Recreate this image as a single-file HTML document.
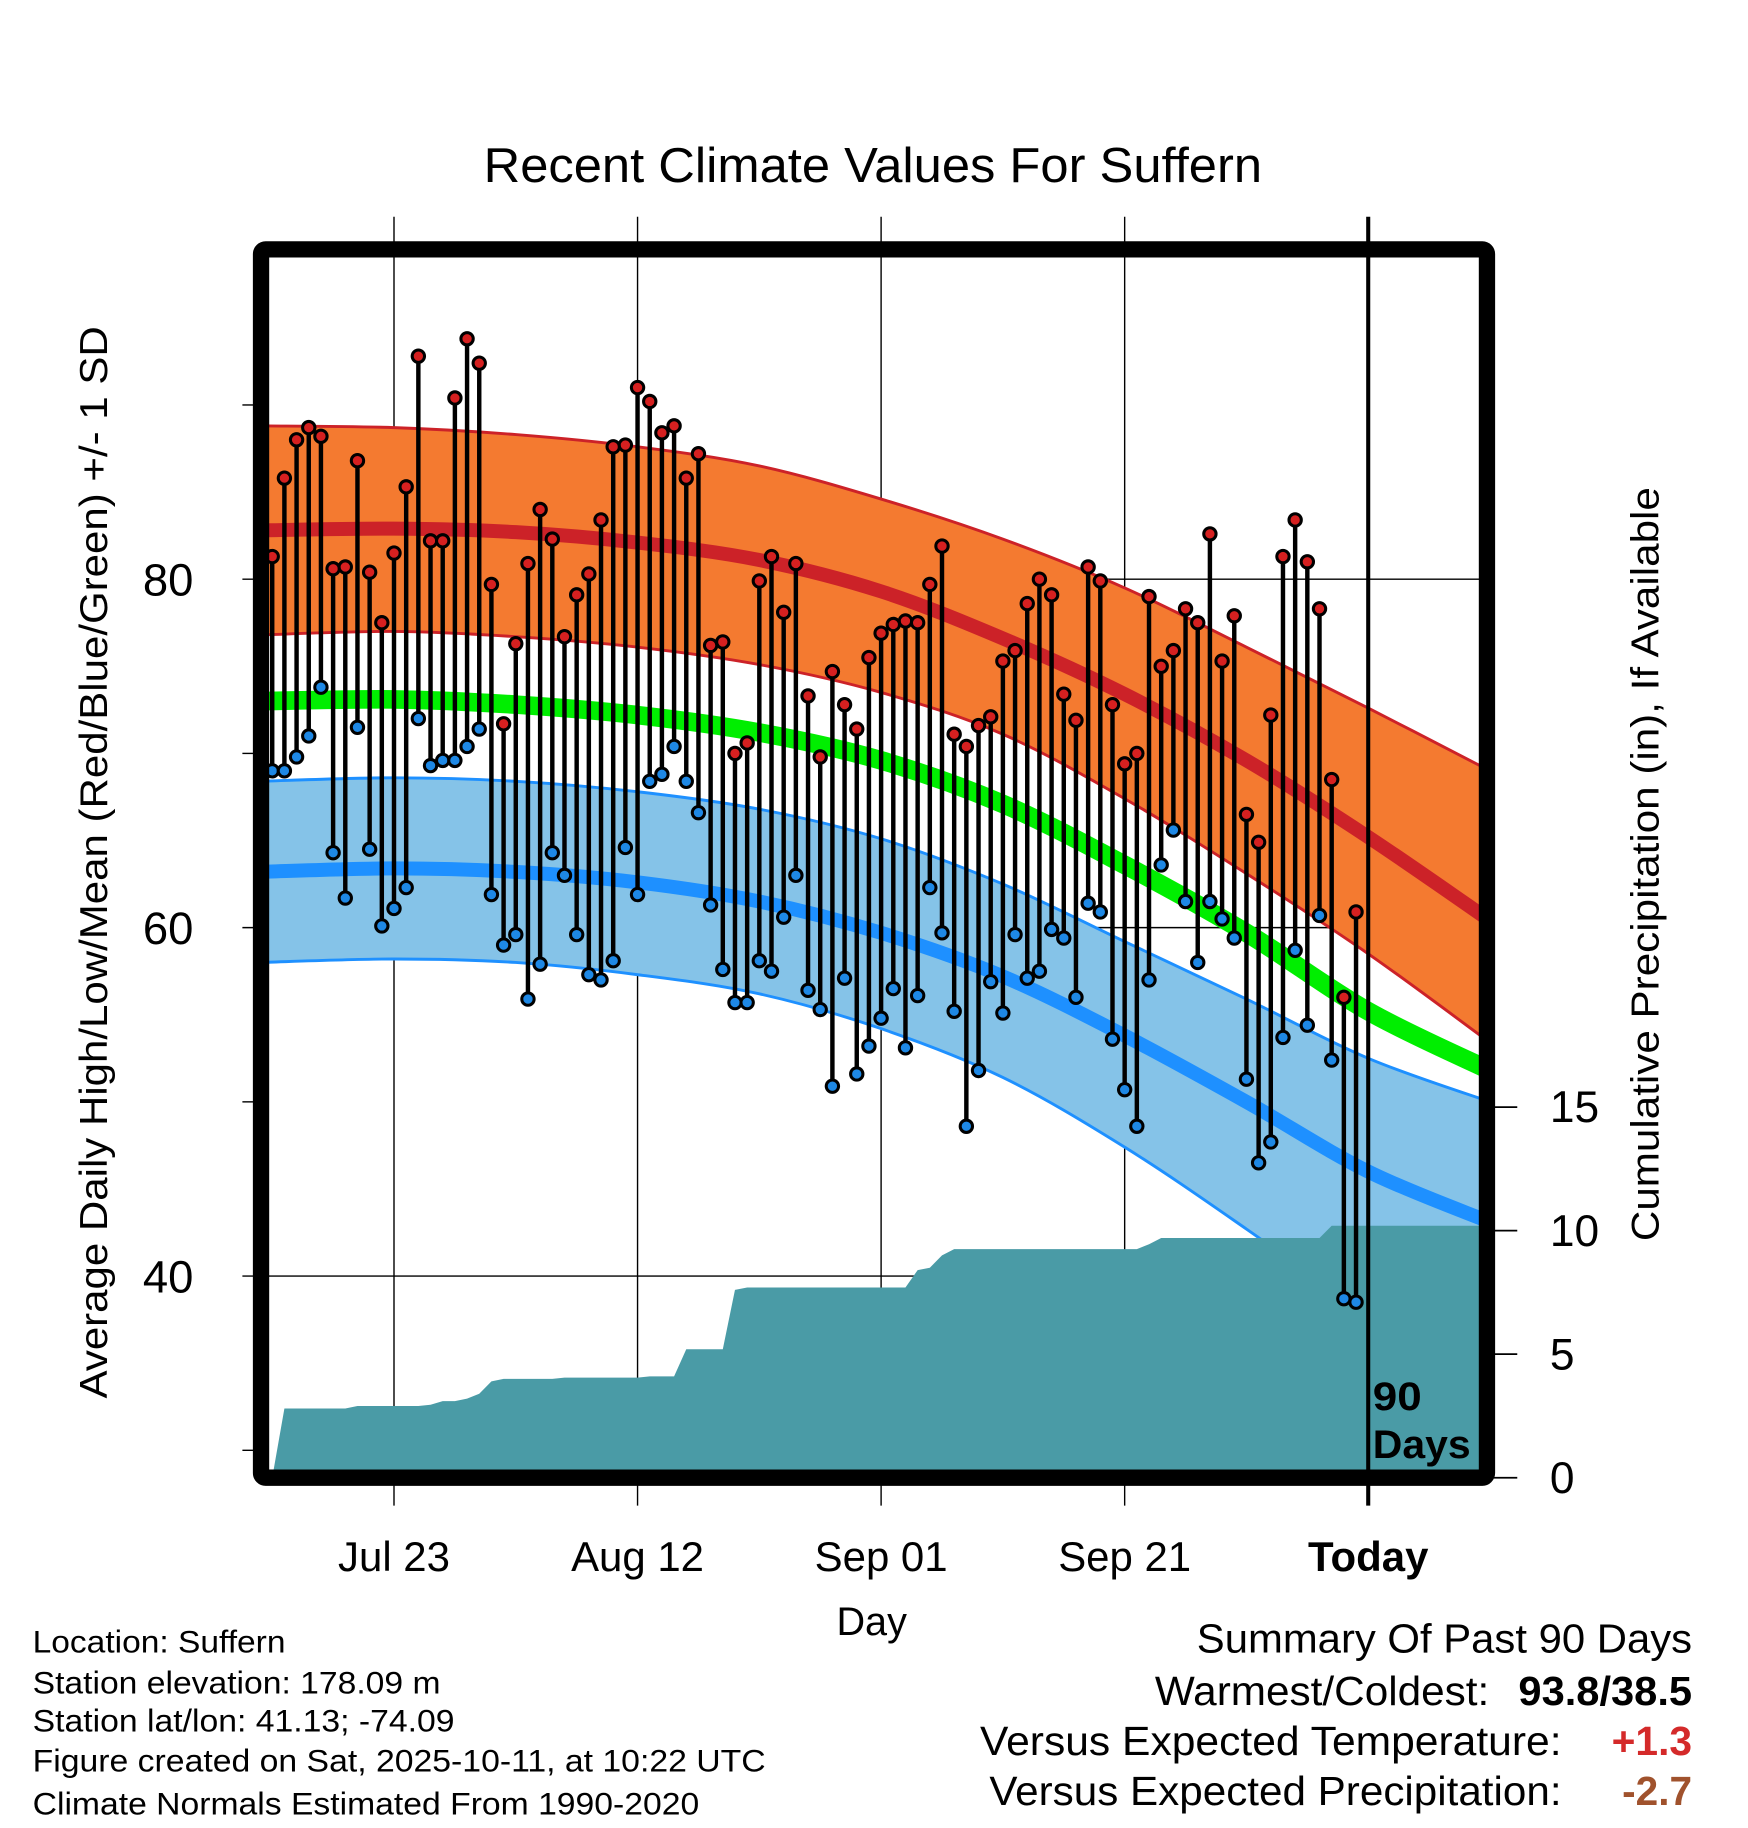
<!DOCTYPE html>
<html><head><meta charset="utf-8">
<style>html,body{margin:0;padding:0;background:#fff}svg{display:block}text{font-family:"Liberation Sans",sans-serif}</style>
</head><body>
<svg id="chart" width="1748" height="1828" viewBox="0 0 1500 1568.6" preserveAspectRatio="none" xmlns="http://www.w3.org/2000/svg">
<defs><clipPath id="pc"><rect x="230" y="220" width="1040" height="1042"/></clipPath></defs>
<text x="415" y="156" font-size="42" textLength="668" lengthAdjust="spacingAndGlyphs">Recent Climate Values For Suffern</text>
<g id="grid"></g>
<g id="plot" clip-path="url(#pc)"></g>
<g id="axes"></g>
<rect x="224" y="214" width="1052" height="1054" fill="none" stroke="#000" stroke-width="14" rx="4"/>
<text transform="translate(92,1200) rotate(-90)" font-size="33" textLength="920" lengthAdjust="spacingAndGlyphs">Average Daily High/Low/Mean (Red/Blue/Green) +/- 1 SD</text>
<text transform="translate(1423,1065) rotate(-90)" font-size="33" textLength="647" lengthAdjust="spacingAndGlyphs">Cumulative Precipitation (in), If Available</text>
<text x="748" y="1403" font-size="34" text-anchor="middle">Day</text>
<text x="1178" y="1210" font-size="34" font-weight="bold" textLength="42" lengthAdjust="spacingAndGlyphs">90</text>
<text x="1178" y="1251" font-size="34" font-weight="bold" textLength="84" lengthAdjust="spacingAndGlyphs">Days</text>
<g font-size="27" lengthAdjust="spacingAndGlyphs">
<text x="28" y="1418" textLength="217" lengthAdjust="spacingAndGlyphs">Location: Suffern</text>
<text x="28" y="1453" textLength="350" lengthAdjust="spacingAndGlyphs">Station elevation: 178.09 m</text>
<text x="28" y="1486" textLength="362" lengthAdjust="spacingAndGlyphs">Station lat/lon: 41.13; -74.09</text>
<text x="28" y="1520" textLength="629" lengthAdjust="spacingAndGlyphs">Figure created on Sat, 2025-10-11, at 10:22 UTC</text>
<text x="28" y="1557" textLength="572" lengthAdjust="spacingAndGlyphs">Climate Normals Estimated From 1990-2020</text>
</g>
<g font-size="35">
<text x="1027" y="1418" textLength="425" lengthAdjust="spacingAndGlyphs">Summary Of Past 90 Days</text>
<text x="991" y="1463" textLength="287" lengthAdjust="spacingAndGlyphs">Warmest/Coldest:</text>
<text x="1303" y="1463" font-weight="bold" textLength="149" lengthAdjust="spacingAndGlyphs">93.8/38.5</text>
<text x="841" y="1506" textLength="499" lengthAdjust="spacingAndGlyphs">Versus Expected Temperature:</text>
<text x="1383" y="1506" font-weight="bold" fill="#d42a2a" textLength="69" lengthAdjust="spacingAndGlyphs">+1.3</text>
<text x="849" y="1549" textLength="491" lengthAdjust="spacingAndGlyphs">Versus Expected Precipitation:</text>
<text x="1392" y="1549" font-weight="bold" fill="#a0522d" textLength="60" lengthAdjust="spacingAndGlyphs">-2.7</text>
</g>
</svg>
<script>
const highs=[81.3,85.8,88.0,88.7,88.2,80.6,80.7,86.8,80.4,77.5,81.5,85.3,92.8,82.2,82.2,90.4,93.8,92.4,79.7,71.7,76.3,80.9,84.0,82.3,76.7,79.1,80.3,83.4,87.6,87.7,91.0,90.2,88.4,88.8,85.8,87.2,76.2,76.4,70.0,70.6,79.9,81.3,78.1,80.9,73.3,69.8,74.7,72.8,71.4,75.5,76.9,77.4,77.6,77.5,79.7,81.9,71.1,70.4,71.6,72.1,75.3,75.9,78.6,80.0,79.1,73.4,71.9,80.7,79.9,72.8,69.4,70.0,79.0,75.0,75.9,78.3,77.5,82.6,75.3,77.9,66.5,64.9,72.2,81.3,83.4,81.0,78.3,68.5,56.0,60.9];
const lows=[69.0,69.0,69.8,71.0,73.8,64.3,61.7,71.5,64.5,60.1,61.1,62.3,72.0,69.3,69.6,69.6,70.4,71.4,61.9,59.0,59.6,55.9,57.9,64.3,63.0,59.6,57.3,57.0,58.1,64.6,61.9,68.4,68.8,70.4,68.4,66.6,61.3,57.6,55.7,55.7,58.1,57.5,60.6,63.0,56.4,55.3,50.9,57.1,51.6,53.2,54.8,56.5,53.1,56.1,62.3,59.7,55.2,48.6,51.8,56.9,55.1,59.6,57.1,57.5,59.9,59.4,56.0,61.4,60.9,53.6,50.7,48.6,57.0,63.6,65.6,61.5,58.0,61.5,60.5,59.4,51.3,46.5,47.7,53.7,58.7,54.4,60.7,52.4,38.7,38.5];
const normDays=[-1,10,20,30,40,50,60,70,80,90,100];
const hiUpper=[88.8,88.7,88.3,87.6,86.5,84.6,82.3,79.5,76.1,72.6,69.0];
const hiMean=[82.8,82.9,82.7,82.1,81.1,79.3,76.6,73.4,69.6,65.2,60.4];
const hiLower=[76.8,77.0,76.7,76.1,75.1,73.5,71.1,67.4,63.1,58.5,53.4];
const avgMean=[73.0,73.1,72.8,72.2,71.2,69.6,67.1,63.6,59.7,55.2,51.8];
const loUpper=[68.4,68.6,68.4,67.8,66.8,65.1,62.5,59.2,55.9,52.5,50.0];
const loMean=[63.2,63.4,63.2,62.6,61.5,59.7,57.2,53.8,50.0,46.0,43.1];
const loLower=[58.0,58.2,58.0,57.3,56.2,54.2,51.4,47.4,42.7,37.7,33.0];
const precipCum=[0,2.8,2.8,2.8,2.8,2.8,2.8,2.9,2.9,2.9,2.9,2.9,2.9,2.95,3.1,3.1,3.2,3.4,3.9,4.0,4.0,4.0,4.0,4.0,4.05,4.05,4.05,4.05,4.05,4.05,4.05,4.1,4.1,4.1,5.2,5.2,5.2,5.2,7.6,7.7,7.7,7.7,7.7,7.7,7.7,7.7,7.7,7.7,7.7,7.7,7.7,7.7,7.7,8.4,8.5,9.0,9.25,9.25,9.25,9.25,9.25,9.25,9.25,9.25,9.25,9.25,9.25,9.25,9.25,9.25,9.25,9.25,9.45,9.7,9.7,9.7,9.7,9.7,9.7,9.7,9.7,9.7,9.7,9.7,9.7,9.7,9.7,10.2,10.2,10.2,10.2];
const yTicks=[40,60,80];
const yMinor=[30,50,70,90];
const pTicks=[0,5,10,15];
const xTickLabels=["Jul 23","Aug 12","Sep 01","Sep 21","Today"];
const xTickDays=[10,30,50,70,90];

const NS="http://www.w3.org/2000/svg";
const xD=d=>233.6+10.45*d;
const yT=v=>497-(v-80)*14.95;
const yP=p=>1268-p*21.2;
function mk(tag,attrs,parent){const e=document.createElementNS(NS,tag);for(const k in attrs)e.setAttribute(k,attrs[k]);parent.appendChild(e);return e;}
function pts(vals){return normDays.map((d,i)=>[xD(d),yT(vals[i])]);}
function smooth(p){let s="";for(let i=0;i<p.length-1;i++){const p0=p[Math.max(0,i-1)],p1=p[i],p2=p[i+1],p3=p[Math.min(p.length-1,i+2)];
 const c1=[p1[0]+(p2[0]-p0[0])/6,p1[1]+(p2[1]-p0[1])/6],c2=[p2[0]-(p3[0]-p1[0])/6,p2[1]-(p3[1]-p1[1])/6];
 s+=(i===0?"M"+p1[0]+","+p1[1]:"")+" C"+c1[0]+","+c1[1]+" "+c2[0]+","+c2[1]+" "+p2[0]+","+p2[1];}return s;}
function band(up,lo){const a=smooth(pts(up));const b=smooth(pts(lo).reverse());return a+" L"+b.slice(1)+" Z";}

const grid=document.getElementById('grid'),plot=document.getElementById('plot'),axes=document.getElementById('axes');
let e;
e=mk('path',{d:band(hiUpper,hiLower),fill:'#f47a30'},plot);


e=mk('path',{d:band(loUpper,loLower),fill:'#85c3e8'},plot);


[[hiUpper,'#cc2228',2.5,'high-upper-line'],[hiLower,'#cc2228',2.5,'high-lower-line'],[hiMean,'#cc2228',12,'normal-high-line'],[avgMean,'#00ee00',16,'normal-mean-line'],[loUpper,'#1e90ff',2.5,'low-upper-line'],[loLower,'#1e90ff',2.5,'low-lower-line'],[loMean,'#1e90ff',12,'normal-low-line']].forEach(c=>{
 const l=mk('path',{d:smooth(pts(c[0])),fill:'none',stroke:c[1],'stroke-width':c[2]},plot);
 
 
});
let pd="M"+xD(0)+","+yP(0);
precipCum.forEach((p,i)=>{pd+=" L"+xD(i)+","+yP(p);});
pd+=" L1275,"+yP(precipCum[precipCum.length-1])+" L1275,1270 L"+xD(0)+",1270 Z";
e=mk('path',{d:pd,fill:'#4a9ba6'},plot);


yTicks.forEach(v=>{const g=mk('line',{x1:208,x2:1270,y1:yT(v),y2:yT(v),stroke:'#000','stroke-width':1.2},grid);
 
 
 const t=mk('text',{x:166,y:yT(v)+14,'font-size':39,'text-anchor':'end'},axes);t.textContent=v;
 
 });
yMinor.forEach(v=>{const g=mk('line',{x1:208,x2:218,y1:yT(v),y2:yT(v),stroke:'#000','stroke-width':1.2},grid);
 
 });
xTickDays.forEach((d,i)=>{const g=mk('line',{x1:xD(d),x2:xD(d),y1:186,y2:1292,stroke:'#000','stroke-width':i===4?3.5:1.2},i===4?axes:grid);
 
 
 const t=mk('text',{x:xD(d),y:1348,'font-size':36,'text-anchor':'middle','font-weight':i===4?'bold':'normal'},axes);t.textContent=xTickLabels[i];
 
 });
pTicks.forEach(p=>{const g=mk('line',{x1:1282,x2:1302,y1:yP(p),y2:yP(p),stroke:'#000','stroke-width':1.5},axes);
 
 
 const t=mk('text',{x:1330,y:yP(p)+13,'font-size':38},axes);t.textContent=p;
 
 });
highs.forEach((h,i)=>{const x=xD(i);
 const l=mk('line',{x1:x,x2:x,y1:yT(h),y2:yT(lows[i]),stroke:'#000','stroke-width':3.8},plot);
 
 
 const a=mk('circle',{cx:x,cy:yT(h),r:5.3,fill:'#d62020',stroke:'#000','stroke-width':2.6},plot);
 
 
 const b=mk('circle',{cx:x,cy:yT(lows[i]),r:5.3,fill:'#1e88e5',stroke:'#000','stroke-width':2.6},plot);
 
 });
</script>
</body></html>
